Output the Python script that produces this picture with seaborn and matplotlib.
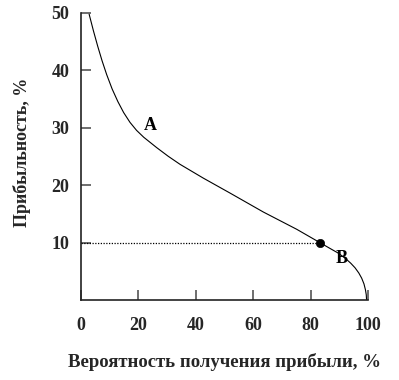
import matplotlib
matplotlib.use("Agg")
import matplotlib.pyplot as plt
import seaborn as sns
import pandas as pd

# curve
prob = [3.0, 4.5, 6.0, 7.5, 9.1, 11.0, 13.0, 15.0, 17.2, 19.5, 22.0, 26.5, 30.5,
        34.6, 42.7, 52.0, 63.6, 75.2, 83.2, 86.5, 89.5, 92.0, 94.0, 95.5, 96.8,
        97.8, 98.6, 99.1, 99.4, 99.5]
profit = [49.7, 46.8, 44.1, 41.6, 39.2, 36.7, 34.5, 32.6, 30.9, 29.5, 28.3, 26.5,
          25.0, 23.6, 21.2, 18.6, 15.3, 12.3, 10.0, 9.05, 8.2, 7.3, 6.4, 5.6,
          4.7, 3.8, 2.8, 1.8, 0.9, 0.0]

point_x = [83.2]
point_y = [10.0]
guide_x = [0.0, 83.2]
guide_y = [10.0, 10.0]

labels = ["A", "B"]
label_x = [24.2, 90.8]
label_y = [30.4, 7.2]

xticks = [0, 20, 40, 60, 80, 100]
yticks = [10, 20, 30, 40, 50]

sns.set_style("white")
plt.rcParams["font.family"] = ["Liberation Serif", "DejaVu Serif"]

fig = plt.figure(figsize=(3.99, 3.80), dpi=100)
ax = fig.add_axes([0.2018, 0.2105, 0.7205, 0.7566])

df = pd.DataFrame({"x": prob, "y": profit})
sns.lineplot(data=df, x="x", y="y", ax=ax, color="black", linewidth=0.8,
             sort=False, estimator=None)
sns.lineplot(x=guide_x, y=guide_y, ax=ax, color="black", linewidth=0.9,
             linestyle=(0, (1, 1.2)), estimator=None)
sns.scatterplot(x=point_x, y=point_y, ax=ax, color="black", s=36,
                edgecolor="black", zorder=5)

for t, lx, ly in zip(labels, label_x, label_y):
    ax.text(lx, ly, t, fontsize=13, fontweight="bold", ha="center",
            va="center", color="black")

ax.set_xlim(0, 100)
ax.set_ylim(0, 50)
ax.set_xticks(xticks)
ax.set_yticks(yticks)
ax.set_xticklabels([str(v) for v in xticks])
ax.set_yticklabels([str(v) for v in yticks])

for s in ["top", "right"]:
    ax.spines[s].set_visible(False)
for s in ["left", "bottom"]:
    ax.spines[s].set_color("#222222")
    ax.spines[s].set_linewidth(1.2)

ax.tick_params(axis="both", direction="in", length=7, width=1.2,
               color="#555555", labelsize=13, bottom=True, left=True)
ax.tick_params(axis="y", pad=8)
ax.tick_params(axis="x", pad=12)
for lab in ax.get_xticklabels() + ax.get_yticklabels():
    lab.set_fontweight("bold")

ax.set_xlabel("Вероятность получения прибыли, %", fontsize=13.5,
              fontweight="bold", labelpad=14)
ax.set_ylabel("Прибыльность, %", fontsize=13, fontweight="bold")
ax.yaxis.set_label_coords(-0.172, 0.515)

fig.savefig("out.png", dpi=100)
